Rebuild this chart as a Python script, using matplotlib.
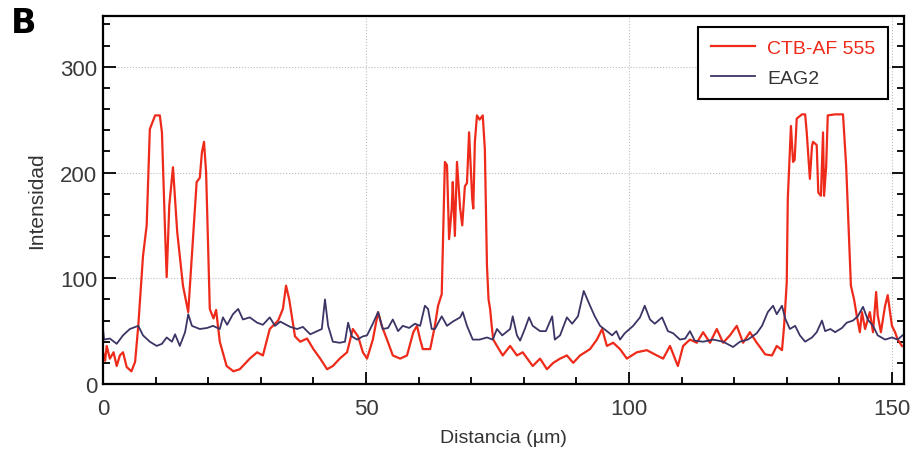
import numpy as np
import matplotlib.pyplot as plt
from matplotlib.ticker import MultipleLocator

# perfil CTB-AF 555 (rojo)
ctb_x = [0, 0.4, 0.7, 1.3, 2.0, 2.6, 3.2, 3.8, 4.5, 5.4, 6.1, 6.7, 7.6, 8.3, 8.9, 9.9,
         10.8, 11.2, 11.8, 12.1, 12.6, 13.3, 14.1, 15.2, 16.2, 17.1, 17.8, 18.4, 18.8,
         19.2, 19.6, 20.3, 21.0, 21.5, 22.2, 23.5, 24.8, 26.0, 27.9, 29.3, 30.4, 31.7,
         33.3, 34.2, 34.8, 35.4, 35.9, 36.5, 37.5, 38.8, 40.0, 41.3, 42.6, 43.7, 45.0,
         46.4, 47.5, 48.5, 49.4, 50.2, 51.3, 52.3, 53.0, 54.0, 55.1, 56.5, 57.8, 59.0,
         59.7, 60.3, 60.8, 62.2, 63.1, 63.7, 64.4, 65.0, 65.4, 65.8, 66.3, 66.5, 66.9,
         67.3, 67.9, 68.3, 68.8, 69.2, 69.6, 70.2, 70.4, 70.7, 71.1, 71.6, 72.2, 72.6,
         73.0, 73.3, 73.6, 73.9, 74.2, 74.9, 76.0, 77.4, 78.7, 79.8, 81.7, 83.1, 84.4,
         85.6, 86.9, 88.2, 89.4, 90.7, 92.6, 93.9, 94.9, 95.8, 97.0, 98.3, 99.6, 101.5,
         103.4, 105.3, 106.5, 107.8, 109.3, 110.3, 111.6, 112.9, 114.1, 115.4, 116.7,
         117.9, 119.2, 120.5, 121.7, 123.0, 124.3, 124.9, 125.9, 127.2, 128.1, 129.1,
         129.5, 130.0, 130.2, 130.8, 131.2, 131.5, 131.9, 132.9, 133.5, 133.8, 134.4,
         134.8, 135.0, 135.7, 136.0, 136.5, 136.9, 137.1, 137.5, 137.8, 139.2, 140.7,
         141.3, 141.6, 142.2, 142.8, 143.3, 143.9, 144.3, 144.9, 145.8, 146.4, 147.0,
         147.3, 147.9, 148.7, 149.2, 150.0, 150.6, 151.1, 151.9]
ctb_y = [30, 22, 36, 24, 30, 17, 27, 30, 16, 12, 21, 55, 121, 150, 241, 254,
         254, 238, 144, 101, 169, 205, 144, 93, 68, 137, 191, 195, 219,
         229, 200, 71, 62, 70, 40, 17, 12, 14, 24, 30, 27, 52,
         60, 71, 93, 80, 64, 45, 40, 43, 33, 24, 14, 17, 24,
         30, 52, 45, 30, 24, 42, 68, 55, 42, 27, 24, 27, 49,
         55, 42, 33, 33, 55, 74, 85, 210, 207, 137, 166, 191, 140,
         210, 166, 150, 187, 190, 238, 175, 166, 229, 254, 250, 254, 222,
         112, 80, 71, 55, 42, 36, 27, 36, 27, 30, 17, 24, 14,
         20, 24, 27, 20, 27, 33, 42, 52, 36, 39, 33, 24, 30,
         32, 27, 24, 36, 17, 36, 42, 39, 49, 39, 52,
         39, 46, 55, 39, 49, 39, 35, 28, 27, 36, 32,
         55, 96, 175, 244, 210, 212, 251, 255, 255, 238, 194,
         225, 229, 226, 181, 178, 238, 178, 206, 254, 255, 255,
         206, 169, 93, 80, 65, 49, 68, 52, 68, 49, 87,
         65, 49, 74, 84, 55, 49, 42, 36]

# perfil EAG2 (azul oscuro)
eag_x = [0, 0.2, 1.3, 2.6, 3.8, 5.1, 6.7, 7.6, 8.9, 10.2, 11.2, 12.1, 13.1, 13.7, 14.6,
         15.6, 16.2, 16.9, 18.4, 19.8, 20.9, 22.2, 22.8, 23.6, 24.7, 25.7, 26.6, 27.9,
         29.3, 30.4, 31.7, 32.7, 33.7, 35.6, 36.9, 38.0, 39.4, 40.7, 41.6, 42.2, 42.8,
         43.7, 45.0, 46.0, 46.6, 47.3, 48.3, 49.4, 50.2, 51.3, 52.3, 53.2, 54.2, 55.1,
         56.1, 57.0, 58.2, 59.3, 60.3, 61.2, 61.8, 62.5, 63.1, 64.4, 65.4, 66.5, 67.9,
         68.4, 69.2, 70.3, 71.6, 73.0, 74.1, 74.9, 75.9, 77.4, 77.9, 78.7, 79.3, 80.2,
         81.0, 81.7, 83.1, 84.2, 85.4, 85.9, 86.9, 88.2, 89.2, 90.3, 91.4, 92.6, 93.5,
         94.5, 95.8, 96.8, 97.6, 98.3, 99.2, 100.8, 102.1, 103.0, 104.0, 104.9, 106.3,
         107.4, 108.4, 109.7, 110.7, 111.6, 112.5, 114.1, 116.0, 117.9, 119.8, 121.1,
         122.6, 124.3, 125.3, 126.4, 127.4, 128.1, 129.1, 129.7, 130.6, 131.6, 132.5,
         133.5, 134.8, 135.7, 136.7, 137.3, 138.3, 139.2, 140.5, 141.4, 142.6, 143.5,
         144.5, 145.4, 146.4, 147.3, 148.7, 150.0, 151.1, 152.0]
eag_y = [52, 42, 43, 38, 46, 52, 55, 46, 40, 36, 38, 44, 40, 47, 36,
         49, 66, 55, 52, 53, 55, 52, 63, 56, 66, 71, 61, 63,
         58, 56, 63, 55, 59, 54, 52, 54, 47, 50, 52, 80, 55,
         40, 39, 40, 58, 45, 42, 45, 46, 57, 68, 52, 53, 61,
         50, 55, 53, 57, 55, 74, 71, 52, 52, 64, 55, 59, 63,
         68, 55, 42, 42, 44, 42, 52, 46, 52, 64, 46, 41, 52,
         63, 55, 50, 50, 64, 42, 46, 63, 57, 64, 88, 74, 64,
         55, 50, 46, 50, 42, 48, 55, 63, 74, 61, 57, 63,
         50, 48, 42, 43, 50, 41, 40, 42, 40, 35, 40,
         42, 48, 55, 68, 74, 66, 74, 62, 52, 55, 46,
         40, 44, 49, 60, 50, 52, 49, 53, 58, 60, 64,
         73, 61, 55, 46, 42, 44, 42, 46]

plt.rcParams['font.family'] = ['Liberation Sans', 'DejaVu Sans']

fig = plt.figure(figsize=(9.15, 4.56), dpi=100)
ax = fig.add_axes([0.1126, 0.1557, 0.8754, 0.807])

ax.plot(ctb_x, ctb_y, color='#ee2a1a', lw=1.6, label='CTB-AF 555')
ax.plot(eag_x, eag_y, color='#3b3566', lw=1.3, label='EAG2')

ax.set_xlim(0, 152.3)
ax.set_ylim(0, 348)
ax.xaxis.set_major_locator(MultipleLocator(50))
ax.xaxis.set_minor_locator(MultipleLocator(10))
ax.yaxis.set_major_locator(MultipleLocator(100))
ax.yaxis.set_minor_locator(MultipleLocator(20))
ax.tick_params(which='both', direction='in', right=True, width=1.3, labelsize=16, colors='black')
ax.tick_params(which='major', length=9)
ax.tick_params(which='minor', length=5)
ax.tick_params(axis='x', which='major', pad=10)
ax.tick_params(axis='y', which='major', pad=4)
for tl in ax.get_xticklabels() + ax.get_yticklabels():
    tl.set_color('#3a3a3a')
for s in ax.spines.values():
    s.set_linewidth(1.6)
ax.grid(True, which='major', color='#bbbbbb', ls=':', lw=0.8)

ax.set_xlabel('Distancia (µm)', fontsize=14, color='#333333', labelpad=7)
ax.set_ylabel('Intensidad', fontsize=15, color='#333333', labelpad=10)

leg = ax.legend(loc='upper right', bbox_to_anchor=(0.980, 0.970), borderaxespad=0,
                fontsize=14, fancybox=False, edgecolor='black', framealpha=1,
                handlelength=2.3, borderpad=0.65, labelspacing=0.6, handletextpad=0.6)
leg.get_frame().set_linewidth(1.5)
leg.get_texts()[0].set_color('#ee2a1a')
leg.get_texts()[1].set_color('#333333')

fig.text(0.012, 0.985, 'B', fontsize=24, fontweight='black', va='top', ha='left',
         family='DejaVu Sans')

fig.savefig('out.png', dpi=100)
